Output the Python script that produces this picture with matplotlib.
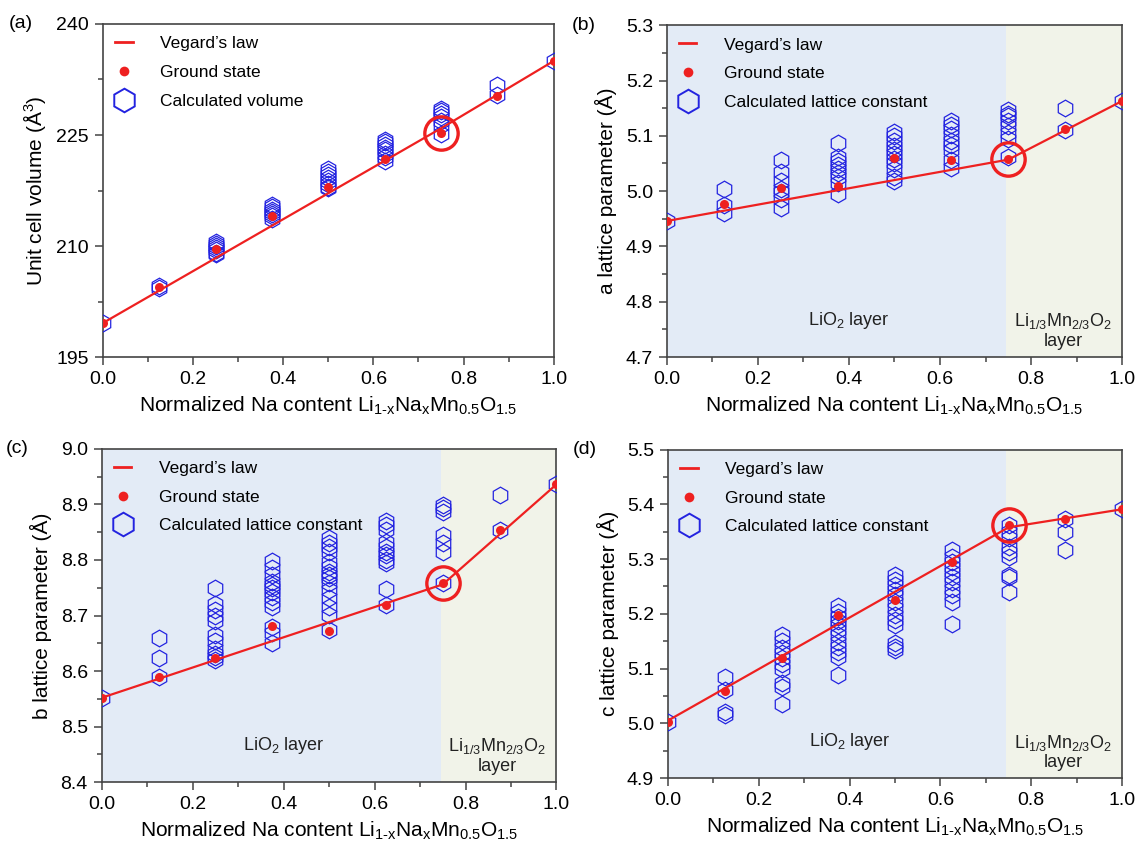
import numpy as np
import matplotlib
matplotlib.use('Agg')
import matplotlib.pyplot as plt
from matplotlib.lines import Line2D

plt.rcParams['font.family'] = ['Liberation Sans', 'DejaVu Sans']
plt.rcParams['mathtext.fontset'] = 'custom'
plt.rcParams['mathtext.rm'] = 'Liberation Sans'
plt.rcParams['mathtext.it'] = 'Liberation Sans:italic'
plt.rcParams['mathtext.default'] = 'regular'

# Na content of the supercells
x_na = [0.0, 0.125, 0.25, 0.375, 0.5, 0.625, 0.75, 0.875, 1.0]
x_vegard = [0.0, 0.75, 1.0]

# (a) unit cell volume
vol_ground = [199.6, 204.5, 209.55, 214.1, 218.0, 221.7, 225.3, 230.3, 235.0]
vol_vegard = [199.6, 225.9, 235.0]
vol_calc = [
    [199.6],
    [204.3, 204.6],
    [210.6, 210.3, 210.0, 209.7, 209.4, 209.1, 208.9],
    [215.6, 215.3, 214.9, 214.6, 214.3, 214.0, 213.7],
    [220.4, 220.0, 219.6, 219.2, 218.8, 218.4, 218.0, 217.8],
    [224.3, 224.0, 223.7, 223.3, 223.0, 222.5, 222.0, 221.5],
    [228.5, 228.2, 227.8, 227.4, 226.9, 226.4, 225.1],
    [231.75, 230.4],
    [235.0],
]

# (b) a lattice parameter
a_ground = [4.946, 4.976, 5.006, 5.010, 5.060, 5.056, 5.059, 5.112, 5.163]
a_vegard = [4.946, 5.057, 5.163]
a_calc = [
    [4.946],
    [5.003, 4.975, 4.960],
    [5.057, 5.034, 5.018, 5.004, 4.998, 4.985, 4.970],
    [5.087, 5.062, 5.055, 5.048, 5.040, 5.032, 5.025, 5.015, 4.995],
    [5.107, 5.100, 5.090, 5.082, 5.075, 5.068, 5.058, 5.050, 5.040, 5.025, 5.018],
    [5.127, 5.120, 5.112, 5.102, 5.090, 5.083, 5.075, 5.057, 5.042],
    [5.146, 5.140, 5.135, 5.127, 5.118, 5.105, 5.095, 5.062],
    [5.151, 5.111],
    [5.163],
]

# (c) b lattice parameter
b_ground = [8.552, 8.589, 8.624, 8.681, 8.673, 8.718, 8.758, 8.854, 8.936]
b_vegard = [8.552, 8.756, 8.936]
b_calc = [
    [8.552],
    [8.659, 8.623, 8.589],
    [8.750, 8.720, 8.710, 8.700, 8.690, 8.665, 8.655, 8.640, 8.630, 8.625, 8.620],
    [8.798, 8.786, 8.773, 8.761, 8.755, 8.749, 8.743, 8.734, 8.725, 8.716, 8.680, 8.668, 8.650],
    [8.839, 8.830, 8.824, 8.815, 8.797, 8.788, 8.779, 8.773, 8.767, 8.758, 8.746, 8.731, 8.716, 8.701, 8.674],
    [8.870, 8.863, 8.854, 8.833, 8.824, 8.815, 8.809, 8.800, 8.794, 8.748, 8.718],
    [8.899, 8.893, 8.887, 8.845, 8.830, 8.815, 8.758],
    [8.916, 8.854],
    [8.936],
]

# (d) c lattice parameter
c_ground = [5.003, 5.059, 5.120, 5.198, 5.225, 5.294, 5.363, 5.374, 5.391]
c_vegard = [5.005, 5.358, 5.391]
c_calc = [
    [5.003],
    [5.085, 5.061, 5.020, 5.016],
    [5.162, 5.150, 5.138, 5.128, 5.119, 5.109, 5.100, 5.073, 5.067, 5.036],
    [5.215, 5.204, 5.195, 5.186, 5.179, 5.170, 5.161, 5.149, 5.140, 5.131, 5.122, 5.089],
    [5.271, 5.262, 5.253, 5.243, 5.234, 5.222, 5.210, 5.198, 5.189, 5.179, 5.146, 5.140, 5.134],
    [5.316, 5.304, 5.295, 5.286, 5.277, 5.268, 5.259, 5.246, 5.234, 5.222, 5.181],
    [5.363, 5.350, 5.338, 5.322, 5.313, 5.304, 5.271, 5.268, 5.239],
    [5.374, 5.350, 5.316],
    [5.391],
]

panels = [
    ('(a)', vol_ground, vol_vegard, vol_calc, 'Unit cell volume (Å$^3$)', (195, 240), 15, 7.5, 'Calculated volume', False),
    ('(b)', a_ground, a_vegard, a_calc, 'a lattice parameter (Å)', (4.7, 5.3), 0.1, 0.05, 'Calculated lattice constant', True),
    ('(c)', b_ground, b_vegard, b_calc, 'b lattice parameter (Å)', (8.4, 9.0), 0.1, 0.05, 'Calculated lattice constant', True),
    ('(d)', c_ground, c_vegard, c_calc, 'c lattice parameter (Å)', (4.9, 5.5), 0.1, 0.05, 'Calculated lattice constant', True),
]

boxes = [
    [0.0905, 0.576, 0.396, 0.3955],
    [0.586, 0.576, 0.400, 0.394],
    [0.0894, 0.071, 0.3996, 0.396],
    [0.587, 0.076, 0.399, 0.390],
]

red = '#ee2020'
blue = '#2323e0'
spine_col = '#444444'

fig = plt.figure(figsize=(11.38, 8.42), dpi=100)

for (tag, ground, vegard, calc, ylab, ylim, major, minor, hexlab, shaded), box in zip(panels, boxes):
    ax = fig.add_axes(box)
    if shaded:
        ax.axvspan(0, 0.745, color='#e3ebf6', zorder=0, lw=0)
        ax.axvspan(0.745, 1.0, color='#f1f3e9', zorder=0, lw=0)
        ax.text(0.4, 0.11, 'LiO$_2$ layer', transform=ax.transAxes, ha='center', va='center',
                fontsize=13, color='#222222')
        ax.text(0.87, 0.08, 'Li$_{1/3}$Mn$_{2/3}$O$_2$\nlayer', transform=ax.transAxes,
                ha='center', va='center', fontsize=13, color='#222222', linespacing=1.1)

    for xv, vals in zip(x_na, calc):
        ax.plot([xv] * len(vals), vals, 'h', ms=12, mfc='none', mec=blue, mew=0.9,
                linestyle='none', zorder=3)
    ax.plot(x_vegard, vegard, '-', color=red, lw=1.6, zorder=4)
    ax.plot(x_na, ground, 'o', color=red, ms=6.5, mew=0, zorder=5)
    # highlight the x = 0.75 composition
    ax.plot([0.75], [ground[6]], 'o', ms=24, mfc='none', mec=red, mew=2.4, zorder=6)

    ax.set_xlim(0, 1)
    ax.set_ylim(*ylim)
    ax.set_xticks(np.arange(0, 1.01, 0.2))
    ax.set_xticks(np.arange(0, 1.01, 0.1), minor=True)
    ax.set_yticks(np.arange(ylim[0], ylim[1] + 1e-9, major))
    ax.set_yticks(np.arange(ylim[0], ylim[1] + 1e-9, minor), minor=True)
    if major == 15:
        ax.yaxis.set_major_formatter(matplotlib.ticker.FormatStrFormatter('%d'))
    else:
        ax.yaxis.set_major_formatter(matplotlib.ticker.FormatStrFormatter('%.1f'))
    ax.xaxis.set_major_formatter(matplotlib.ticker.FormatStrFormatter('%.1f'))
    ax.tick_params(which='both', direction='out', color=spine_col, width=1.1)
    ax.tick_params(which='major', length=6, labelsize=14, pad=4)
    ax.tick_params(which='minor', length=3.5)
    for sp in ax.spines.values():
        sp.set_color(spine_col)
        sp.set_linewidth(1.2)

    ax.set_xlabel('Normalized Na content Li$_{1\u2010x}$Na$_x$Mn$_{0.5}$O$_{1.5}$', fontsize=15, labelpad=5)
    ax.set_ylabel(ylab, fontsize=15, labelpad=6)
    ax.text(-0.21, 1.0, tag, transform=ax.transAxes, fontsize=14, ha='left', va='center')

    handles = [
        Line2D([], [], color=red, lw=2),
        Line2D([], [], color=red, marker='o', ls='none', ms=7, mew=0),
        Line2D([], [], color=blue, marker='h', ls='none', ms=17, mfc='none', mew=1.4),
    ]
    ax.legend(handles, ['Vegard\u2019s law', 'Ground state', hexlab], loc='upper left',
              frameon=False, fontsize=12.5, handlelength=1.0, handletextpad=1.6,
              labelspacing=0.78, borderaxespad=0.4, borderpad=0.3)

fig.savefig('out.png', dpi=100)
